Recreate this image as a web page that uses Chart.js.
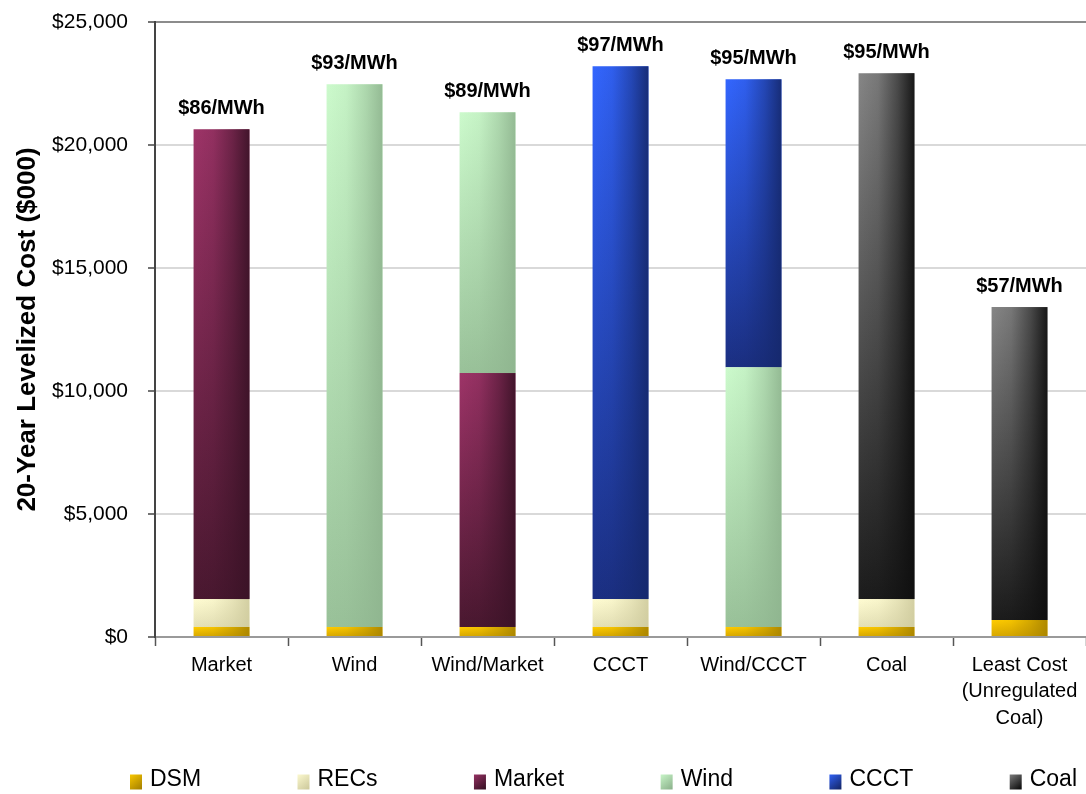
<!DOCTYPE html>
<html>
<head>
<meta charset="utf-8">
<script src="https://cdn.jsdelivr.net/npm/chart.js@4.4.1/dist/chart.umd.min.js"></script>
<style>
  html, body { margin: 0; padding: 0; background: #ffffff; }
  #wrap { width: 1086px; height: 794px; }
</style>
</head>
<body>
<div id="wrap"><canvas id="c" width="1086" height="794"></canvas></div>
<script>
// ---- Data ----
const categories = ["Market", "Wind", "Wind/Market", "CCCT", "Wind/CCCT", "Coal", ["Least Cost", "(Unregulated", "Coal)"]];
const dsm    = [410, 410, 410, 410, 410, 410, 690];
const recs   = [1130, 0, 0, 1130, 0, 1130, 0];
const market = [19100, 0, 10320, 0, 0, 0, 0];
const wind   = [0, 22060, 10600, 0, 10560, 0, 0];
const ccct   = [0, 0, 0, 21660, 11700, 0, 0];
const coal   = [0, 0, 0, 0, 0, 21380, 12720];
const costLabels = ["$86/MWh", "$93/MWh", "$89/MWh", "$97/MWh", "$95/MWh", "$95/MWh", "$57/MWh"];
const seriesNames = ["DSM", "RECs", "Market", "Wind", "CCCT", "Coal"];
const yTicks = [0, 5000, 10000, 15000, 20000, 25000];

// ---- Styles ----
const palette = {
  DSM:    { light: "#ffcc00", bottom: "#d6a600", dark: "#a98400" },
  RECs:   { light: "#fffcd2", bottom: "#e4e0b6", dark: "#cfcb9e" },
  Market: { light: "#9e3468", bottom: "#4a1830", dark: "#3a1226" },
  Wind:   { light: "#ccfacc", bottom: "#99c199", dark: "#8fb58f" },
  CCCT:   { light: "#3366ff", bottom: "#1b2f82", dark: "#15286c" },
  Coal:   { light: "#868686", bottom: "#1c1c1c", dark: "#0e0e0e" }
};
const FONT = '"Liberation Sans", Arial, sans-serif';

function hexA(hex, a) {
  const n = parseInt(hex.slice(1), 16);
  return `rgba(${(n >> 16) & 255},${(n >> 8) & 255},${n & 255},${a})`;
}

function segmentFill(name) {
  const p = palette[name];
  return function (ctx) {
    if (ctx.type !== "data") return p.bottom;
    const chart = ctx.chart;
    const ys = chart.scales && chart.scales.y;
    if (!chart.chartArea || !ys) return p.bottom;
    const i = ctx.dataIndex, d = ctx.datasetIndex;
    let below = 0;
    for (let k = 0; k < d; k++) below += chart.data.datasets[k].data[i] || 0;
    const v = chart.data.datasets[d].data[i] || 0;
    const yTop = ys.getPixelForValue(below + v);
    const yBase = ys.getPixelForValue(below);
    if (!(yBase - yTop > 0.5)) return p.bottom;
    const g = chart.ctx.createLinearGradient(0, yTop, 0, yBase);
    g.addColorStop(0, p.light);
    g.addColorStop(1, p.bottom);
    return g;
  };
}

const dataArrays = [dsm, recs, market, wind, ccct, coal];
const datasets = seriesNames.map((name, k) => ({
  label: name,
  data: dataArrays[k],
  backgroundColor: segmentFill(name),
  borderWidth: 0,
  barPercentage: 0.42,
  categoryPercentage: 1.0,
  stack: "s"
}));

// Horizontal shading + labels above the bars + bottom legend
const shadePlugin = {
  id: "shade",
  afterDatasetsDraw(chart) {
    const c = chart.ctx;
    chart.data.datasets.forEach((ds, d) => {
      const meta = chart.getDatasetMeta(d);
      const p = palette[ds.label];
      meta.data.forEach((el) => {
        const { x, y, base, width } = el.getProps(["x", "y", "base", "width"], true);
        const h = base - y;
        if (!(h > 0.5)) return;
        const l = x - width / 2;
        const g = c.createLinearGradient(l, 0, l + width, 0);
        g.addColorStop(0, hexA(p.dark, 0));
        g.addColorStop(0.35, hexA(p.dark, 0.12));
        g.addColorStop(0.7, hexA(p.dark, 0.5));
        g.addColorStop(1, hexA(p.dark, 0.92));
        c.save();
        c.fillStyle = g;
        c.fillRect(l, y, width, h);
        c.restore();
      });
    });
    const ys = chart.scales.y, xs = chart.scales.x;
    c.save();
    c.font = "bold 20px " + FONT;
    c.fillStyle = "#000";
    c.textAlign = "center";
    c.textBaseline = "alphabetic";
    categories.forEach((cat, i) => {
      let total = 0;
      chart.data.datasets.forEach((ds) => { total += ds.data[i] || 0; });
      const px = xs.getPixelForValue(i);
      const py = ys.getPixelForValue(total);
      c.fillText(costLabels[i], px, py - 15);
    });
    c.restore();
  },
  afterDraw(chart) {
    const c = chart.ctx;
    c.save();
    c.font = "23px " + FONT;
    const startX = 130, endX = 1077, yMid = 780, boxW = 12, boxH = 15, textOff = 20;
    const widths = seriesNames.map((n) => textOff + c.measureText(n).width);
    const total = widths.reduce((a, b) => a + b, 0);
    const gap = (endX - startX - total) / (seriesNames.length - 1);
    let x = startX;
    seriesNames.forEach((n, k) => {
      const p = palette[n];
      const g = c.createLinearGradient(x, yMid - boxH / 2, x + boxW, yMid + boxH / 2);
      g.addColorStop(0, p.light);
      g.addColorStop(1, p.dark);
      c.fillStyle = g;
      c.fillRect(x, yMid - boxH / 2 + 2, boxW, boxH);
      c.fillStyle = "#000";
      c.textAlign = "left";
      c.textBaseline = "middle";
      c.fillText(n, x + textOff, yMid);
      x += widths[k] + gap;
    });
    c.restore();
  }
};

function fmtMoney(v) {
  return "$" + String(v).replace(/\B(?=(\d{3})+(?!\d))/g, ",");
}

new Chart(document.getElementById("c"), {
  type: "bar",
  data: { labels: categories, datasets },
  options: {
    responsive: false,
    animation: false,
    devicePixelRatio: 1,
    layout: { padding: { top: 22, right: 0, bottom: 0, left: 0 } },
    plugins: {
      legend: { display: false },
      tooltip: { enabled: false }
    },
    scales: {
      x: {
        stacked: true,
        offset: true,
        afterFit(s) { s.height = 157; s.paddingLeft = 0; s.paddingRight = 0; },
        grid: {
          display: true, drawOnChartArea: false, drawTicks: true,
          tickLength: 9, tickColor: "#555", tickWidth: 1.5, offset: true
        },
        border: { display: true, color: "#9a9a9a", width: 2 },
        ticks: {
          color: "#000",
          font: { family: FONT, size: 20, lineHeight: 1.32 },
          padding: 6,
          maxRotation: 0, autoSkip: false
        }
      },
      y: {
        stacked: true,
        min: 0, max: 25000,
        afterFit(s) { s.width = 155; s.paddingTop = 0; s.paddingBottom = 0; },
        afterBuildTicks(s) { s.ticks = yTicks.map((v) => ({ value: v })); },
        grid: {
          color: (ctx) => (ctx.tick && ctx.tick.value === 25000 ? "#8c8c8c" : "#d9d9d9"),
          lineWidth: 2,
          drawTicks: true, tickLength: 7, tickColor: "#444", tickWidth: 1.5
        },
        border: { display: true, color: "#444", width: 2 },
        ticks: {
          color: "#000",
          font: { family: FONT, size: 21 },
          padding: 20,
          callback: (v) => fmtMoney(v)
        },
        title: {
          display: true,
          text: "20-Year Levelized Cost ($000)",
          color: "#000",
          font: { family: FONT, size: 26, weight: "bold", lineHeight: 1.2 },
          padding: { top: 12, bottom: 0 }
        }
      }
    }
  },
  plugins: [shadePlugin]
});
</script>
</body>
</html>
